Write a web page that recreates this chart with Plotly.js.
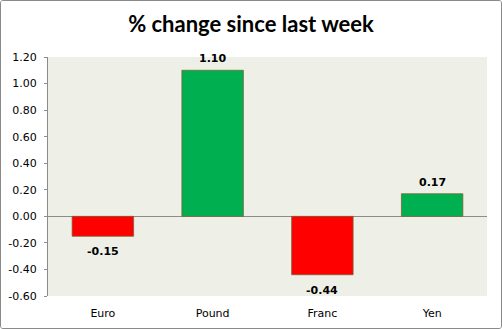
<!DOCTYPE html>
<html><head><meta charset="utf-8">
<script src="https://cdn.plot.ly/plotly-3.0.1.min.js"></script>
<style>
html,body{margin:0;padding:0;background:#fff;}
#frame{position:absolute;left:0;top:0;width:500px;height:327px;border:1px solid #8a8a8a;border-radius:3px;overflow:hidden;}
#chart{width:500px;height:327px;}
</style></head>
<body><div id="frame"><div id="chart"></div></div>
<script>
const categories = ["Euro", "Pound", "Franc", "Yen"];
const changes = [-0.15, 1.10, -0.44, 0.17];
const yTickVals = [-0.6, -0.4, -0.2, 0, 0.2, 0.4, 0.6, 0.8, 1.0, 1.2];
const yTickText = ["-0.60", "-0.40", "-0.20", "0.00", "0.20", "0.40", "0.60", "0.80", "1.00", "1.20"];

const colors = changes.map(v => v >= 0 ? "#00B050" : "#FF0000");
const labels = changes.map(v => v.toFixed(2));

const trace = {
  type: "bar",
  x: categories,
  y: changes,
  marker: {color: colors, line: {color: "rgba(120,95,50,0.75)", width: 1}},
  hoverinfo: "none"
};

const annotations = categories.map((c, i) => ({
  x: c, y: changes[i], xref: "x", yref: "y",
  text: labels[i], showarrow: false,
  yanchor: changes[i] >= 0 ? "bottom" : "top",
  yshift: changes[i] >= 0 ? 3 : -7,
  font: {family: "Verdana, DejaVu Sans, sans-serif", size: 11, color: "#000", weight: "bold"}
}));

const layout = {
  width: 500, height: 327,
  margin: {l: 47, r: 14, t: 56, b: 32},
  paper_bgcolor: "#ffffff",
  plot_bgcolor: "#EEF0E8",
  bargap: 0.44,
  showlegend: false,
  annotations: annotations,
  title: {text: "% change since last week", x: 0.5, xanchor: "center", y: 0.93, yanchor: "middle",
          font: {family: "Lato, Open Sans, sans-serif", size: 22, color: "#000", weight: "bold"}},
  xaxis: {
    showgrid: false, showline: false, zeroline: false,
    ticks: "outside", ticklen: 7, tickcolor: "rgba(0,0,0,0)",
    tickfont: {family: "Verdana, DejaVu Sans, sans-serif", size: 11, color: "#000"},
    fixedrange: true
  },
  yaxis: {
    range: [-0.6, 1.2],
    tickvals: yTickVals, ticktext: yTickText,
    showgrid: false,
    zeroline: true, zerolinecolor: "#8c8c8c", zerolinewidth: 1,
    showline: true, linecolor: "#8c8c8c", linewidth: 1,
    ticks: "outside", ticklen: 3, tickcolor: "#8c8c8c",
    ticklabelstandoff: 5,
    tickfont: {family: "Verdana, DejaVu Sans, sans-serif", size: 11, color: "#000"},
    fixedrange: true
  }
};

Plotly.newPlot("chart", [trace], layout, {displayModeBar: false, staticPlot: true});
</script>
</body></html>
